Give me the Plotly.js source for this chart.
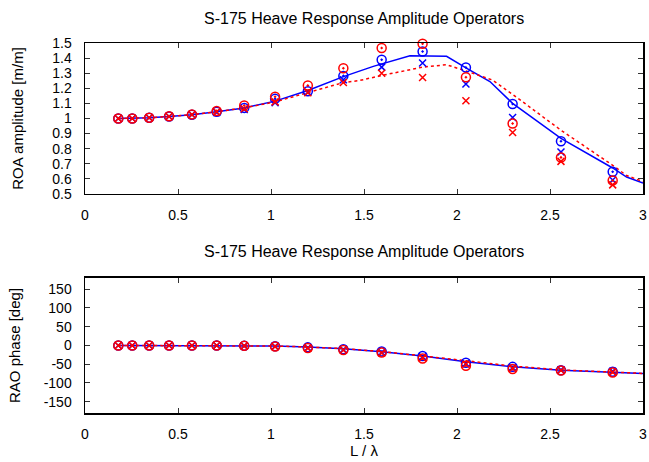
<!DOCTYPE html>
<html>
<head>
<meta charset="utf-8">
<script src="https://cdn.plot.ly/plotly-3.0.1.min.js"></script>
<style>html,body{margin:0;padding:0;background:#fff;}#chart{width:649px;height:462px;}</style>
</head>
<body>
<div id="chart"></div>
<script>
// Wave length ratio L/lambda of the measured points
const markerX = [0.179, 0.254, 0.345, 0.452, 0.575, 0.708, 0.856, 1.022, 1.198, 1.389, 1.595, 1.815, 2.048, 2.299, 2.559, 2.837];

// Amplitude (top panel) markers
const ampBlueCircle = [1.0, 1.0, 1.005, 1.013, 1.025, 1.045, 1.07, 1.13, 1.18, 1.282, 1.389, 1.444, 1.338, 1.096, 0.849, 0.647];
const ampBlueX      = [1.0, 1.0, 1.005, 1.013, 1.025, 1.04, 1.06, 1.105, 1.175, 1.256, 1.34, 1.367, 1.229, 1.007, 0.778, 0.593];
const ampRedCircle  = [1.0, 1.0, 1.005, 1.015, 1.027, 1.05, 1.086, 1.144, 1.218, 1.333, 1.467, 1.495, 1.273, 0.967, 0.742, 0.589];
const ampRedX       = [1.0, 1.0, 1.005, 1.013, 1.025, 1.045, 1.065, 1.11, 1.17, 1.238, 1.30, 1.271, 1.118, 0.907, 0.716, 0.56];

// Amplitude (top panel) computed curves
const ampBlueLineX = [0.179, 0.254, 0.345, 0.452, 0.575, 0.708, 0.856, 1.022, 1.198, 1.389, 1.55, 1.747, 1.944, 2.048, 2.177, 2.299, 2.482, 2.559, 2.837, 2.912, 3.0];
const ampBlueLine  = [1.0, 1.0, 1.005, 1.013, 1.025, 1.045, 1.07, 1.115, 1.185, 1.277, 1.345, 1.416, 1.412, 1.335, 1.245, 1.10, 0.935, 0.868, 0.672, 0.612, 0.573];
const ampRedLineX  = [0.179, 0.254, 0.345, 0.452, 0.575, 0.708, 0.856, 1.022, 1.198, 1.389, 1.478, 1.595, 1.815, 1.944, 2.048, 2.19, 2.299, 2.482, 2.559, 2.837, 2.912, 3.0];
const ampRedLine   = [1.0, 1.0, 1.005, 1.013, 1.025, 1.045, 1.07, 1.11, 1.172, 1.238, 1.252, 1.285, 1.34, 1.356, 1.315, 1.255, 1.16, 0.99, 0.922, 0.69, 0.622, 0.582];

// Phase (bottom panel) markers
const phBlueCircle = [0, 0, 0, 0, 0, 0, -1, -2, -5, -10, -16, -28, -46, -57, -66, -70];
const phBlueX      = [0, 0, 0, 0, 0, 0, -1, -2, -6, -11, -18, -30, -48, -59, -65, -69];
const phRedCircle  = [0, 0, 0, 0, 0, 0, -1, -3, -7, -12, -19, -35, -54, -63, -67, -72];
const phRedX       = [0, 0, 0, 0, 0, 0, -1, -3, -7, -12, -20, -33, -50, -61, -66, -71];

// Phase (bottom panel) computed curves
const phLineX    = [0.179, 0.254, 0.345, 0.452, 0.575, 0.708, 0.856, 1.022, 1.198, 1.389, 1.595, 1.815, 2.048, 2.299, 2.559, 2.837, 3.0];
const phBlueLine = [0, 0, 0, 0, 0, 0, -0.5, -1.5, -4, -8.5, -16.5, -28, -43.5, -57, -66, -71, -74.5];
const phRedLine  = [0, 0, 0, 0, 0, 0, -0.5, -1.5, -4, -8.5, -16, -27, -40.5, -55, -65, -71, -74.5];

// Tick labels
const xTickVals = [0, 0.5, 1, 1.5, 2, 2.5, 3];
const xTickText = ['0', '0.5', '1', '1.5', '2', '2.5', '3'];
const ampTickVals = [0.5, 0.6, 0.7, 0.8, 0.9, 1.0, 1.1, 1.2, 1.3, 1.4, 1.5];
const ampTickText = ['0.5', '0.6', '0.7', '0.8', '0.9', '1', '1.1', '1.2', '1.3', '1.4', '1.5'];
const phTickVals = [-150, -100, -50, 0, 50, 100, 150];
const phTickText = ['-150', '-100', '-50', '0', '50', '100', '150'];

const BLUE = 'rgb(0,0,255)';
const RED = 'rgb(255,0,0)';

function lineTrace(x, y, color, dash, xa, ya) {
  return {x: x, y: y, xaxis: xa, yaxis: ya, mode: 'lines', type: 'scatter',
    line: {color: color, width: 1.5, dash: dash}, showlegend: false, hoverinfo: 'skip'};
}
function markTrace(x, y, color, symbol, size, xa, ya) {
  return {x: x, y: y, xaxis: xa, yaxis: ya, mode: 'markers', type: 'scatter', cliponaxis: false,
    marker: {symbol: symbol, size: size, color: color, line: {color: color, width: 1.5}}, showlegend: false};
}

const data = [
  lineTrace(ampBlueLineX, ampBlueLine, BLUE, 'solid', 'x', 'y'),
  lineTrace(ampRedLineX, ampRedLine, RED, 'dot', 'x', 'y'),
  markTrace(markerX, ampBlueCircle, BLUE, 'circle-open-dot', 9, 'x', 'y'),
  markTrace(markerX, ampBlueX, BLUE, 'x-thin-open', 7, 'x', 'y'),
  markTrace(markerX, ampRedCircle, RED, 'circle-open-dot', 9, 'x', 'y'),
  markTrace(markerX, ampRedX, RED, 'x-thin-open', 7, 'x', 'y'),
  lineTrace(phLineX, phBlueLine, BLUE, 'solid', 'x2', 'y2'),
  lineTrace(phLineX, phRedLine, RED, 'dot', 'x2', 'y2'),
  markTrace(markerX, phBlueCircle, BLUE, 'circle-open-dot', 9, 'x2', 'y2'),
  markTrace(markerX, phBlueX, BLUE, 'x-thin-open', 7, 'x2', 'y2'),
  markTrace(markerX, phRedCircle, RED, 'circle-open-dot', 9, 'x2', 'y2'),
  markTrace(markerX, phRedX, RED, 'x-thin-open', 7, 'x2', 'y2')
];

const FONT = 'Liberation Sans, Arial, Helvetica, sans-serif';
const axisCommon = {
  showline: true, linecolor: '#000', linewidth: 1.5, mirror: 'ticks',
  ticks: 'inside', ticklen: 5, tickwidth: 1, tickcolor: '#333',
  showgrid: false, zeroline: false, tickmode: 'array',
  tickfont: {family: FONT, size: 14, color: '#000'}, automargin: false
};

const layout = {
  width: 649, height: 462,
  margin: {l: 85, r: 6, t: 43, b: 49},
  paper_bgcolor: '#fff', plot_bgcolor: '#fff',
  font: {family: FONT, size: 15, color: '#000'},
  showlegend: false,
  xaxis: Object.assign({}, axisCommon, {domain: [0, 1], range: [0, 3], anchor: 'y',
    tickvals: xTickVals, ticktext: xTickText, ticklabelstandoff: 8}),
  yaxis: Object.assign({}, axisCommon, {domain: [0.592, 1], range: [0.5, 1.5], anchor: 'x',
    tickvals: ampTickVals, ticktext: ampTickText, ticklabelstandoff: 9,
    title: {text: 'ROA amplitude [m/m]', font: {family: FONT, size: 15, color: '#000'}, standoff: 25}}),
  xaxis2: Object.assign({}, axisCommon, {domain: [0, 1], range: [0, 3], anchor: 'y2',
    tickvals: xTickVals, ticktext: xTickText, ticklabelstandoff: 8,
    title: {text: 'L / λ', font: {family: FONT, size: 15, color: '#000'}, standoff: 2}}),
  yaxis2: Object.assign({}, axisCommon, {domain: [0, 0.365], range: [-180, 180], anchor: 'x2',
    tickvals: phTickVals, ticktext: phTickText, ticklabelstandoff: 9,
    title: {text: 'RAO phase [deg]', font: {family: FONT, size: 15, color: '#000'}, standoff: 19}}),
  annotations: [
    {text: 'S-175 Heave Response Amplitude Operators', xref: 'paper', yref: 'paper', x: 0.5, y: 1,
     yshift: 25, showarrow: false, xanchor: 'center', yanchor: 'middle', font: {family: FONT, size: 16, color: '#000'}},
    {text: 'S-175 Heave Response Amplitude Operators', xref: 'paper', yref: 'paper', x: 0.5, y: 0.365,
     yshift: 26, showarrow: false, xanchor: 'center', yanchor: 'middle', font: {family: FONT, size: 16, color: '#000'}}
  ]
};

Plotly.newPlot('chart', data, layout, {displayModeBar: false, staticPlot: true});
</script>
</body>
</html>
